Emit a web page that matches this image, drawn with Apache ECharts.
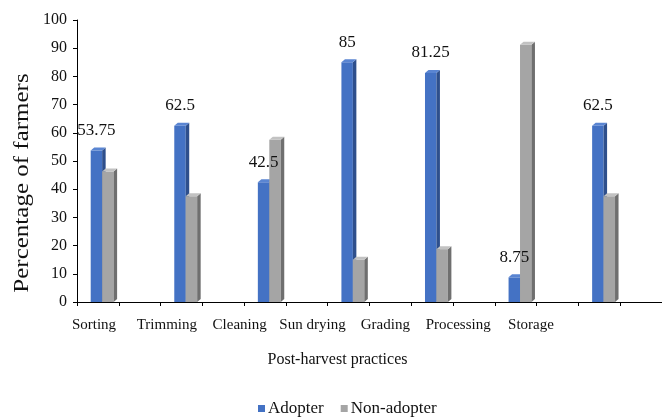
<!DOCTYPE html>
<html>
<head>
<meta charset="utf-8">
<script src="https://cdn.jsdelivr.net/npm/echarts@6/dist/echarts.min.js"></script>
<style>
  html, body { margin: 0; padding: 0; background: #fff; }
  #chart { width: 662px; height: 417px; }
</style>
</head>
<body>
<div id="chart"></div>
<script>
// Post-harvest practice adoption (% of farmers)
const categories = ['Sorting', 'Trimming', 'Cleaning', 'Sun drying', 'Grading', 'Processing', 'Storage'];
const adopter = [53.75, 62.5, 42.5, 85, 81.25, 8.75, 62.5];
const nonAdopter = [46.25, 37.5, 57.5, 15, 18.75, 91.25, 37.5];
const seriesNames = ['Adopter', 'Non-adopter'];

const FONT = 'Liberation Serif, Times New Roman, serif';

// Faux-3D column: front face, side face and top face
function columnRenderer(offsetFrac, palette, withLabel) {
  return function (params, api) {
    const i = api.value(0);
    const v = api.value(1);
    const base = api.coord([i, 0]);
    const top = api.coord([i, v]);
    const bw = api.size([1, 0])[0];
    const w = bw * 0.137;
    const x = base[0] + offsetFrac * bw;
    const dx = 3.5, dy = -3;
    const yt = top[1], yb = base[1];
    const children = [
      { type: 'rect', shape: { x: x, y: yt, width: w, height: yb - yt },
        style: { fill: palette.front } },
      { type: 'polygon', shape: { points: [[x + w, yt], [x + w + dx, yt + dy], [x + w + dx, yb + dy], [x + w, yb]] },
        style: { fill: palette.side } },
      { type: 'polygon', shape: { points: [[x, yt], [x + dx, yt + dy], [x + w + dx, yt + dy], [x + w, yt]] },
        style: { fill: palette.top } }
    ];
    if (withLabel) {
      children.push({
        type: 'text', z2: 100,
        x: x + w / 2, y: yt - 20,
        style: { text: String(v), fill: '#111', font: '17px ' + FONT,
                 align: 'center', verticalAlign: 'middle' }
      });
    }
    return { type: 'group', children: children };
  };
}

const chart = echarts.init(document.getElementById('chart'), null, { renderer: 'canvas' });

chart.setOption({
  animation: false,
  backgroundColor: '#fff',
  grid: [
    { left: 77, right: 0, top: 20, bottom: 115 },
    { left: 57.6, right: 94.6, top: 20, bottom: 115 }
  ],
  xAxis: [
    { // category axis carrying the columns
      type: 'category', gridIndex: 0, data: categories, position: 'bottom',
      axisLine: { show: true, lineStyle: { color: '#000', width: 1 } },
      axisTick: { show: false }, axisLabel: { show: false }, splitLine: { show: false }
    },
    { // category label row
      type: 'category', gridIndex: 1, data: categories, position: 'bottom',
      axisLine: { show: false }, axisTick: { show: false }, splitLine: { show: false },
      axisLabel: { show: true, color: '#111', fontFamily: FONT, fontSize: 15, margin: 16, interval: 0 }
    },
    { // tick marks along the base line
      type: 'value', gridIndex: 0, min: 0, max: 14, interval: 1, position: 'bottom',
      axisLine: { show: false }, axisLabel: { show: false }, splitLine: { show: false },
      axisTick: { show: true, length: 4, lineStyle: { color: '#000' } }
    }
  ],
  yAxis: [
    {
      type: 'value', gridIndex: 0, min: 0, max: 100, interval: 10,
      axisLine: { show: true, lineStyle: { color: '#000', width: 1 } },
      axisTick: { show: true, length: 4, lineStyle: { color: '#000' } },
      splitLine: { show: false },
      axisLabel: { color: '#111', fontFamily: FONT, fontSize: 16, margin: 10 }
    },
    {
      type: 'value', gridIndex: 1, min: 0, max: 100, show: false
    }
  ],
  legend: {
    data: seriesNames,
    left: 253, top: 395,
    icon: 'rect', itemWidth: 7, itemHeight: 7, itemGap: 17,
    textStyle: { color: '#111', fontFamily: FONT, fontSize: 17, padding: [0, 0, 0, -2] }
  },
  graphic: [
    { type: 'text', x: 23, y: 183, rotation: Math.PI / 2, scaleX: 1.25,
      style: { text: 'Percentage of farmers', fill: '#111', font: '20px ' + FONT,
               align: 'center', verticalAlign: 'middle' } },
    { type: 'text', x: 337.5, y: 360,
      style: { text: 'Post-harvest practices', fill: '#111', font: '16px ' + FONT,
               align: 'center', verticalAlign: 'middle' } }
  ],
  series: [
    {
      name: seriesNames[0], type: 'custom', xAxisIndex: 0, yAxisIndex: 0,
      itemStyle: { color: '#4472C4' },
      renderItem: columnRenderer(-0.336, { front: '#4472C4', side: '#2E4F8C', top: '#5A85D2' }, true),
      data: categories.map((c, i) => [i, adopter[i]])
    },
    {
      name: seriesNames[1], type: 'custom', xAxisIndex: 0, yAxisIndex: 0,
      itemStyle: { color: '#A5A5A5' },
      renderItem: columnRenderer(-0.199, { front: '#A5A5A5', side: '#6F6F6F', top: '#C2C2C2' }, false),
      data: categories.map((c, i) => [i, nonAdopter[i]])
    }
  ]
});
</script>
</body>
</html>
